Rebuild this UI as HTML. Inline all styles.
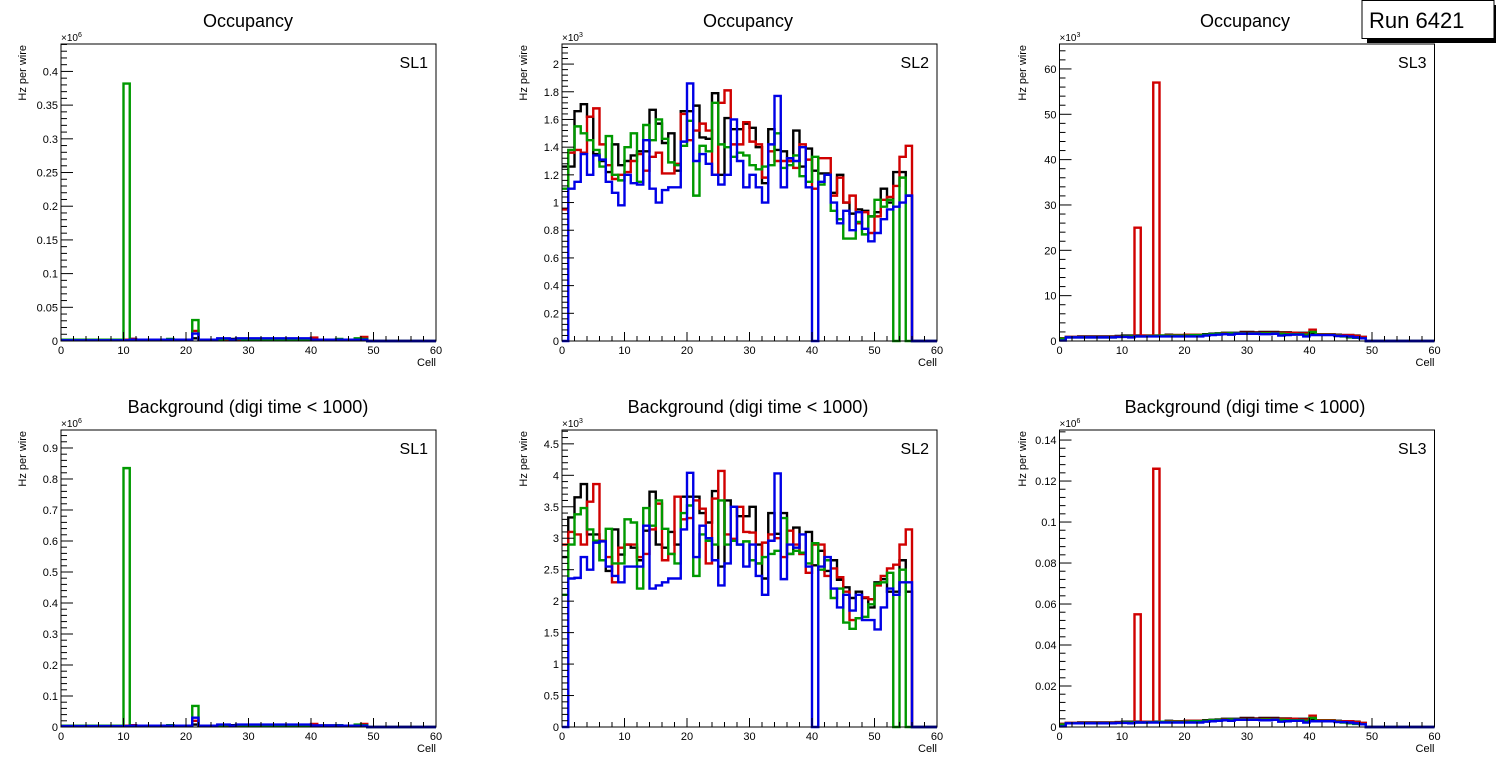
<!DOCTYPE html>
<html><head><meta charset="utf-8"><style>
html,body{margin:0;padding:0;background:#fff;}
svg{display:block;font-family:"Liberation Sans",Arial,sans-serif;}
</style></head><body>
<svg id="c" width="1496" height="772" viewBox="0 0 1496 772" xmlns="http://www.w3.org/2000/svg">
<rect x="0" y="0" width="1496" height="772" fill="#fff"/>
<g>
<rect x="1367" y="5" width="129" height="38" fill="#000"/>
<rect x="1362" y="0.5" width="132" height="38" fill="#fff" stroke="#000" stroke-width="1"/>
<text x="1369" y="28" font-size="22" fill="#000">Run 6421</text>
</g>
</svg>
<script>
// x categories: cells (bins [i,i+1))
const cellMin = 0, cellMax = 60;
const xTicks = [0,10,20,30,40,50,60];

// ---- SL1 Occupancy (x1e6) ----
const sl1OccBlack = [0.002,0.002,0.002,0.002,0.002,0.002,0.002,0.002,0.002,0.002,0.002,0.003,0.002,0.002,0.002,0.002,0.002,0.002,0.002,0.002,0.002,0.004,0.002,0.002,0.002,0.002,0.002,0.003,0.003,0.003,0.001,0.003,0.003,0.003,0.003,0.003,0.003,0.003,0.003,0.003,0.003,0.002,0.002,0.002,0.002,0.002,0.002,0.002,0.002];
const sl1OccRed = [0.001,0.001,0.001,0.001,0.001,0.001,0.001,0.001,0.001,0.001,0.002,0.003,0.002,0.002,0.002,0.002,0.002,0.002,0.002,0.002,0.002,0.015,0.002,0.002,0.002,0.002,0.002,0.002,0.002,0.002,0.002,0.002,0.002,0.002,0.002,0.002,0.002,0.002,0.002,0.002,0.005,0.002,0.002,0.002,0.002,0.002,0.002,0.003,0.006];
const sl1OccGreen = [0.002,0.002,0.002,0.002,0.002,0.002,0.002,0.002,0.002,0.002,0.382,0.002,0.002,0.002,0.002,0.002,0.002,0.003,0.002,0.002,0.002,0.031,0.002,0.002,0.002,0.002,0.003,0.002,0.003,0.002,0.002,0.002,0.002,0.002,0.002,0.002,0.002,0.002,0.002,0.002,0.002,0.002,0.002,0.002,0.003,0.002,0.002,0.004,0.003];
const sl1OccBlue = [0.001,0.001,0.001,0.001,0.001,0.001,0.001,0.001,0.001,0.001,0.001,0.002,0.002,0.002,0.002,0.002,0.002,0.002,0.002,0.002,0.002,0.011,0.002,0.002,0.002,0.004,0.004,0.002,0.004,0.004,0.004,0.004,0.004,0.004,0.004,0.004,0.004,0.004,0.004,0.004,0.002,0.002,0.002,0.002,0.002,0.002,0.002,0.002,0.002];
// ---- SL2 Occupancy (x1e3) ----
const sl2OccBlack = [1.26,1.26,1.66,1.71,1.62,1.35,1.30,1.22,1.42,1.27,1.30,1.34,1.37,1.37,1.67,1.57,1.43,1.50,1.23,1.66,1.66,1.70,1.47,1.46,1.79,1.20,1.61,1.53,1.53,1.57,1.54,1.40,1.14,1.53,1.38,1.37,1.30,1.52,1.26,1.39,1.23,1.21,1.21,1.07,1.20,1.00,0.92,0.95,0.94,0.90,0.93,1.10,1.00,1.22,1.22,1.05];
const sl2OccRed = [0.95,1.36,1.38,1.36,1.62,1.68,1.42,1.27,1.17,1.20,1.22,1.30,1.35,1.23,1.33,1.36,1.21,1.21,1.28,1.64,1.45,1.52,1.57,1.52,1.20,1.72,1.81,1.42,1.42,1.58,1.44,1.42,1.18,1.37,1.30,1.30,1.30,1.25,1.42,1.31,1.10,1.32,1.32,1.05,1.18,1.00,1.05,0.85,0.93,0.78,0.90,1.02,1.04,1.12,1.33,1.41];
const sl2OccGreen = [1.10,1.38,1.55,1.50,1.45,1.38,1.26,1.48,1.20,1.16,1.40,1.50,1.15,1.56,1.45,1.60,1.46,1.29,1.27,1.41,1.59,1.05,1.41,1.37,1.72,1.42,1.40,1.33,1.36,1.34,1.27,1.24,1.26,1.27,1.50,1.25,1.27,1.34,1.19,1.15,1.33,1.13,1.20,0.94,0.88,0.74,0.74,0.86,0.77,0.90,1.02,0.97,1.02,0,1.18,0];
const sl2OccBlue = [0,1.10,1.15,1.35,1.20,1.34,1.31,1.15,1.07,0.98,1.20,1.14,1.13,1.45,1.10,1.00,1.09,1.11,1.11,1.44,1.86,1.30,1.35,1.28,1.20,1.13,1.20,1.60,1.30,1.11,1.20,1.11,1.00,1.42,1.77,1.11,1.32,1.30,1.40,1.11,0,1.15,1.20,1.00,0.85,0.94,0.80,0.93,0.81,0.72,0.78,0.88,0.95,0.97,1.00,1.05];
// ---- SL3 Occupancy (x1e3) ----
const sl3OccBlack = [0.6,0.9,0.9,1.0,1.0,1.0,1.0,1.0,1.0,1.1,1.2,1.2,1.2,1.2,1.2,1.2,1.2,1.4,1.3,1.3,1.4,1.4,1.4,1.5,1.6,1.7,1.8,1.8,1.8,2.0,2.0,1.9,2.0,2.0,2.0,1.9,1.9,1.8,1.8,1.8,1.8,1.5,1.5,1.5,1.4,1.3,1.3,1.2,0.9];
const sl3OccRed = [0.6,0.9,0.9,0.9,0.9,0.9,0.9,0.9,0.9,1.0,1.0,1.0,25.0,1.2,1.2,57.0,1.2,1.3,1.3,1.3,1.4,1.4,1.4,1.4,1.5,1.6,1.7,1.7,1.7,1.8,1.8,1.8,1.8,1.8,1.8,1.8,1.8,1.8,1.7,1.7,2.5,1.5,1.5,1.5,1.3,1.3,1.3,1.1,0.9];
const sl3OccGreen = [0.5,0.8,0.8,0.8,0.8,0.8,0.8,0.8,0.8,0.9,1.0,1.0,1.0,1.0,1.1,1.1,1.2,1.2,1.2,1.2,1.2,1.3,1.3,1.4,1.5,1.6,1.6,1.7,1.7,1.7,1.7,1.7,1.7,1.7,1.7,1.6,1.5,1.5,1.5,1.4,2.0,1.4,1.4,1.4,1.2,1.0,0.8,0.7,0.6];
const sl3OccBlue = [0.1,0.8,0.8,0.8,0.8,0.8,0.8,0.8,0.8,0.9,0.9,0.8,1.0,1.0,1.0,1.0,1.0,1.0,1.0,1.0,1.0,1.0,1.0,1.2,1.3,1.4,1.5,1.4,1.6,1.6,1.6,1.6,1.5,1.5,1.6,1.2,1.3,1.4,1.4,1.0,1.3,1.3,1.3,1.3,1.1,1.1,1.0,0.8,0.6];
// ---- SL1 Background (x1e6) ----
const sl1BgBlack = [0.004,0.004,0.004,0.004,0.004,0.004,0.004,0.004,0.004,0.004,0.004,0.006,0.004,0.004,0.004,0.004,0.004,0.004,0.004,0.004,0.004,0.008,0.004,0.004,0.004,0.004,0.005,0.006,0.006,0.006,0.003,0.006,0.006,0.006,0.006,0.006,0.006,0.006,0.006,0.006,0.006,0.005,0.005,0.005,0.005,0.004,0.004,0.004,0.004];
const sl1BgRed = [0.003,0.003,0.003,0.003,0.003,0.003,0.003,0.003,0.003,0.003,0.004,0.006,0.004,0.004,0.004,0.004,0.004,0.004,0.004,0.004,0.004,0.020,0.004,0.004,0.004,0.004,0.004,0.004,0.004,0.004,0.004,0.004,0.004,0.004,0.004,0.004,0.004,0.004,0.004,0.004,0.010,0.004,0.004,0.004,0.004,0.004,0.004,0.006,0.010];
const sl1BgGreen = [0.004,0.004,0.004,0.004,0.004,0.004,0.004,0.004,0.004,0.004,0.835,0.004,0.004,0.004,0.004,0.004,0.004,0.006,0.004,0.004,0.004,0.068,0.004,0.004,0.004,0.004,0.006,0.004,0.006,0.004,0.004,0.004,0.004,0.004,0.004,0.004,0.004,0.004,0.004,0.004,0.004,0.004,0.004,0.004,0.006,0.004,0.004,0.008,0.006];
const sl1BgBlue = [0.003,0.003,0.003,0.003,0.003,0.003,0.003,0.003,0.003,0.003,0.003,0.004,0.004,0.004,0.004,0.004,0.004,0.004,0.004,0.004,0.004,0.030,0.004,0.004,0.004,0.008,0.008,0.004,0.008,0.008,0.008,0.008,0.008,0.008,0.008,0.008,0.008,0.008,0.008,0.008,0.005,0.005,0.005,0.005,0.005,0.004,0.004,0.004,0.004];
// ---- SL2 Background (x1e3) ----
const sl2BgBlack = [2.70,3.33,3.65,3.86,3.06,3.06,2.65,2.48,3.14,2.74,2.90,2.85,2.65,3.12,3.74,2.90,2.85,3.10,2.90,3.66,3.66,3.66,3.40,3.25,3.75,2.55,3.60,3.50,3.35,3.35,3.50,2.90,2.36,3.40,3.07,3.40,2.75,3.17,2.75,3.10,2.57,2.80,2.48,2.65,2.34,2.22,2.05,2.15,2.05,1.90,2.30,2.35,2.15,2.15,2.65,2.15];
const sl2BgRed = [2.90,3.10,3.06,2.90,3.58,3.86,2.96,2.70,2.30,2.85,2.90,2.90,2.70,2.75,3.14,3.55,2.65,2.75,3.66,3.30,3.32,3.60,3.47,2.60,3.63,4.07,3.06,2.99,3.50,3.10,3.09,2.60,2.93,3.06,3.00,2.70,3.12,2.90,2.75,2.45,2.90,2.90,2.40,2.52,2.38,2.15,1.70,1.73,2.06,2.03,2.25,2.40,2.52,2.58,2.90,3.14];
const sl2BgGreen = [2.10,2.90,3.38,3.48,3.14,2.96,2.65,3.15,2.60,2.60,3.30,3.25,2.20,3.48,3.20,3.60,3.15,2.75,2.60,3.40,3.52,2.40,3.06,2.96,2.90,3.60,2.90,2.96,2.90,2.95,2.65,2.60,2.70,2.75,2.80,3.32,2.75,2.80,2.77,2.60,2.92,2.50,2.65,2.05,2.20,1.66,1.56,1.73,1.75,1.95,2.28,2.30,2.45,0,2.50,0];
const sl2BgBlue = [0,2.36,2.37,2.70,2.50,2.93,2.95,2.55,2.40,2.30,2.55,2.55,2.55,3.20,2.20,2.25,2.30,2.36,2.36,3.14,4.04,2.70,3.20,3.00,2.65,2.25,2.60,3.50,2.90,2.55,2.90,2.40,2.10,2.96,4.03,2.35,2.90,2.85,3.06,2.55,0,2.55,2.70,2.20,1.90,2.10,1.85,2.10,1.70,1.70,1.55,1.90,2.20,2.10,2.30,2.30];
// ---- SL3 Background (x1e6) ----
const sl3BgBlack = [0.0015,0.002,0.002,0.0022,0.0022,0.0022,0.0022,0.0022,0.0022,0.0024,0.0026,0.0026,0.0026,0.0026,0.0026,0.0026,0.0026,0.003,0.0028,0.0028,0.003,0.003,0.003,0.0033,0.0035,0.0037,0.004,0.004,0.004,0.0044,0.0044,0.0042,0.0044,0.0044,0.0044,0.0042,0.0042,0.004,0.004,0.004,0.004,0.0033,0.0033,0.0033,0.003,0.0028,0.0028,0.0026,0.002];
const sl3BgRed = [0.0015,0.002,0.002,0.002,0.002,0.002,0.002,0.002,0.002,0.0022,0.0022,0.0022,0.055,0.0026,0.0026,0.126,0.0026,0.0028,0.0028,0.0028,0.003,0.003,0.003,0.003,0.0033,0.0035,0.0037,0.0037,0.0037,0.004,0.004,0.004,0.004,0.004,0.004,0.004,0.004,0.004,0.0037,0.0037,0.0055,0.0033,0.0033,0.0033,0.0028,0.0028,0.0028,0.0024,0.002];
const sl3BgGreen = [0.0012,0.0018,0.0018,0.0018,0.0018,0.0018,0.0018,0.0018,0.0018,0.002,0.0022,0.0022,0.0022,0.0022,0.0024,0.0024,0.0026,0.0026,0.0026,0.0026,0.0026,0.0028,0.0028,0.003,0.0033,0.0035,0.0035,0.0037,0.0037,0.0037,0.0037,0.0037,0.0037,0.0037,0.0037,0.0035,0.0033,0.0033,0.0033,0.003,0.0044,0.003,0.003,0.003,0.0026,0.0022,0.0018,0.0015,0.0013];
const sl3BgBlue = [0.0003,0.0018,0.0018,0.0018,0.0018,0.0018,0.0018,0.0018,0.0018,0.002,0.002,0.0018,0.0022,0.0022,0.0022,0.0022,0.0022,0.0022,0.0022,0.0022,0.0022,0.0022,0.0022,0.0026,0.0028,0.003,0.0033,0.003,0.0035,0.0035,0.0035,0.0035,0.0033,0.0033,0.0035,0.0026,0.0028,0.003,0.003,0.0022,0.0028,0.0028,0.0028,0.0028,0.0024,0.0024,0.0022,0.0018,0.0013];

// y tick labels per panel
const sl1OccTicks = ["0","0.05","0.1","0.15","0.2","0.25","0.3","0.35","0.4"];
const sl2OccTicks = ["0","0.2","0.4","0.6","0.8","1","1.2","1.4","1.6","1.8","2"];
const sl3OccTicks = ["0","10","20","30","40","50","60"];
const sl1BgTicks = ["0","0.1","0.2","0.3","0.4","0.5","0.6","0.7","0.8","0.9"];
const sl2BgTicks = ["0","0.5","1","1.5","2","2.5","3","3.5","4","4.5"];
const sl3BgTicks = ["0","0.02","0.04","0.06","0.08","0.1","0.12","0.14"];

const NS = "http://www.w3.org/2000/svg";
const svg = document.getElementById('c');
const colors = ["#000000","#d00000","#009900","#0000e6"];
const seriesNames = ["black","red","green","blue"];

function mk(tag, attrs, parent){
  const e = document.createElementNS(NS, tag);
  for (const k in attrs) e.setAttribute(k, attrs[k]);
  parent.appendChild(e);
  return e;
}

const panels = [
  {id:"sl1-occupancy", title:"Occupancy", sl:"SL1", x0:61, y0:44, y1:341, ymax:0.4407, major:0.05, minor:0.01, ticks:sl1OccTicks, mult:"6", series:[sl1OccBlack,sl1OccRed,sl1OccGreen,sl1OccBlue], ytx:22, tx:248},
  {id:"sl2-occupancy", title:"Occupancy", sl:"SL2", x0:562, y0:44, y1:341, ymax:2.145, major:0.2, minor:0.04, ticks:sl2OccTicks, mult:"3", series:[sl2OccBlack,sl2OccRed,sl2OccGreen,sl2OccBlue], ytx:523, tx:748},
  {id:"sl3-occupancy", title:"Occupancy", sl:"SL3", x0:1059.5, y0:44, y1:341, ymax:65.5, major:10, minor:2, ticks:sl3OccTicks, mult:"3", series:[sl3OccBlack,sl3OccRed,sl3OccGreen,sl3OccBlue], ytx:1022, tx:1245},
  {id:"sl1-background", title:"Background (digi time < 1000)", sl:"SL1", x0:61, y0:430, y1:727, ymax:0.958, major:0.1, minor:0.02, ticks:sl1BgTicks, mult:"6", series:[sl1BgBlack,sl1BgRed,sl1BgGreen,sl1BgBlue], ytx:22, tx:248},
  {id:"sl2-background", title:"Background (digi time < 1000)", sl:"SL2", x0:562, y0:430, y1:727, ymax:4.72, major:0.5, minor:0.1, ticks:sl2BgTicks, mult:"3", series:[sl2BgBlack,sl2BgRed,sl2BgGreen,sl2BgBlue], ytx:523, tx:748},
  {id:"sl3-background", title:"Background (digi time < 1000)", sl:"SL3", x0:1059.5, y0:430, y1:727, ymax:0.1449, major:0.02, minor:0.004, ticks:sl3BgTicks, mult:"6", series:[sl3BgBlack,sl3BgRed,sl3BgGreen,sl3BgBlue], ytx:1022, tx:1245}
];
const W = 375;

panels.forEach(p => {
  const g = mk('g', {}, svg);
  
  
  const xs = c => p.x0 + (c - cellMin) / (cellMax - cellMin) * W;
  const ys = v => p.y1 - Math.min(v, p.ymax) / p.ymax * (p.y1 - p.y0);

  const t = mk('text', {x:p.tx, y:p.y0-17, 'font-size':18, 'text-anchor':'middle', fill:'#000'}, g);
  t.textContent = p.title;
  
  

  // histograms
  p.series.forEach((arr, si) => {
    let d = 'M' + xs(0).toFixed(2) + ',' + ys(arr[0]||0).toFixed(2);
    for (let i = 0; i < cellMax; i++) {
      const v = i < arr.length ? arr[i] : 0;
      d += ' V' + ys(v).toFixed(2) + ' H' + xs(i+1).toFixed(2);
    }
    const path = mk('path', {d:d, fill:'none', stroke:colors[si], 'stroke-width':2.4, 'stroke-linejoin':'miter'}, g);
    
    
  });

  // frame
  const fr = mk('rect', {x:p.x0, y:p.y0, width:W, height:p.y1-p.y0, fill:'none', stroke:'#000', 'stroke-width':1}, g);
  
  

  // x ticks
  const xa = mk('g', {}, g);
  
  
  for (let c = 0; c <= 60; c += 2) {
    const len = (c % 10 === 0) ? 9 : 5;
    mk('line', {x1:xs(c), x2:xs(c), y1:p.y1, y2:p.y1-len, stroke:'#000', 'stroke-width':1}, xa);
  }
  xTicks.forEach(c => {
    const tl = mk('text', {x:xs(c), y:p.y1+13, 'font-size':11, 'text-anchor':'middle', fill:'#000'}, xa);
    tl.textContent = String(c);
  });
  const xt = mk('text', {x:p.x0+W, y:p.y1+25, 'font-size':11, 'text-anchor':'end', fill:'#000'}, xa);
  xt.textContent = 'Cell';
  
  

  // y ticks
  const ya = mk('g', {}, g);
  
  
  const nMinor = Math.floor(p.ymax / p.minor + 1e-6);
  const ratio = Math.round(p.major / p.minor);
  for (let k = 0; k <= nMinor; k++) {
    const v = k * p.minor;
    const len = (k % ratio === 0) ? 12 : 6;
    mk('line', {x1:p.x0, x2:p.x0+len, y1:ys(v), y2:ys(v), stroke:'#000', 'stroke-width':1}, ya);
  }
  p.ticks.forEach((lab, k) => {
    const tl = mk('text', {x:p.x0-3, y:ys(k*p.major)+4, 'font-size':11, 'text-anchor':'end', fill:'#000'}, ya);
    tl.textContent = lab;
  });
  const mul = mk('text', {x:p.x0, y:p.y0-3, 'font-size':10, fill:'#000'}, ya);
  mul.textContent = '\u00d710';
  const sup = mk('tspan', {dy:-4, 'font-size':7}, mul);
  sup.textContent = p.mult;
  const yt = mk('text', {x:0, y:0, 'font-size':11, 'text-anchor':'end', fill:'#000', transform:'translate(' + (p.ytx+4) + ',' + (p.y0+1) + ') rotate(-90)'}, ya);
  yt.textContent = 'Hz per wire';
  
  

  const sl = mk('text', {x:p.x0+W-8, y:p.y0+24, 'font-size':16, 'text-anchor':'end', fill:'#000'}, g);
  sl.textContent = p.sl;
  
  
});
</script>
</body></html>
